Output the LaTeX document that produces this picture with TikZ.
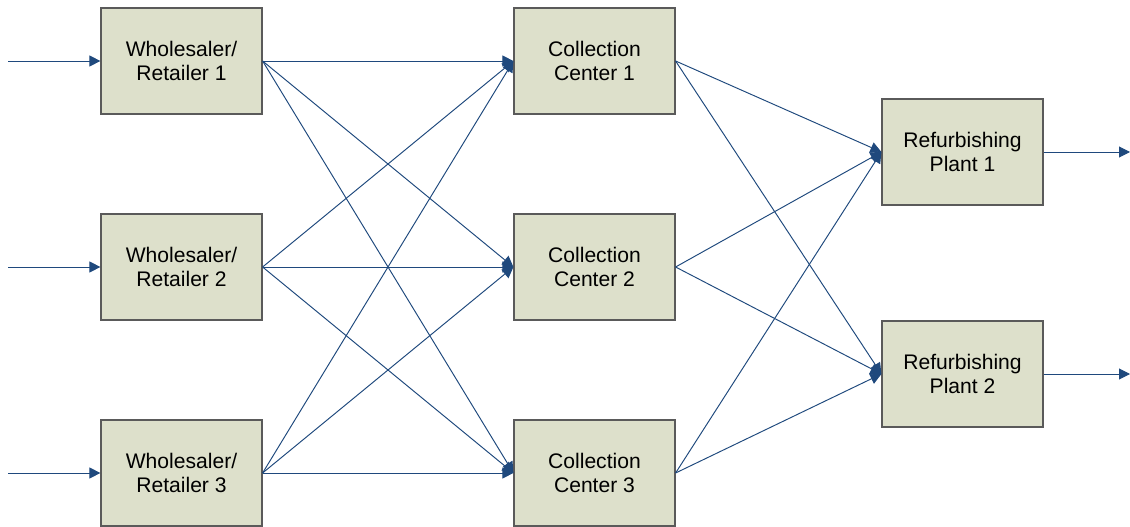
\documentclass[tikz,border=0pt]{standalone}
\usepackage{fontspec}
\setmainfont{Liberation Sans}
\usetikzlibrary{arrows.meta}
\definecolor{boxfill}{RGB}{221,224,203}
\definecolor{boxline}{RGB}{90,90,90}
\definecolor{linkblue}{RGB}{31,73,125}

\begin{document}
\begin{tikzpicture}[
  x=0.02cm, y=-0.02cm,
  >={Triangle[length=2.2mm, width=2.2mm]},
  stagebox/.style={draw=boxline, fill=boxfill, line width=0.7pt, minimum width=3.22cm, minimum height=2.12cm, align=center, font=\fontsize{12}{13.2}\selectfont, inner sep=0pt},
  link/.style={->, draw=linkblue, line width=0.55pt}
]
\useasboundingbox (0,0) rectangle (1130,527);

% Wholesalers / retailers and collection centers
\foreach \i/\y in {1/61, 2/267, 3/473} {
  \node[stagebox] (w\i) at (181.5, \y) {Wholesaler/\\Retailer \i};
  \node[stagebox] (c\i) at (594.5, \y) {Collection\\Center \i};
  \coordinate (in\i) at (8, \y);
}

% Refurbishing plants
\foreach \k/\y in {1/152, 2/374} {
  \node[stagebox] (r\k) at (962.5, \y) {Refurbishing\\Plant \k};
  \coordinate (out\k) at (1130, \y);
}

% Incoming returns
\foreach \i in {1,2,3} {
  \draw[link] (in\i) -- (w\i.west);
}

% Wholesaler to collection center
\foreach \i in {1,2,3} {
  \foreach \j in {1,2,3} {
    \draw[link] (w\i.east) -- (c\j.west);
  }
}

% Collection center to plant
\foreach \j in {1,2,3} {
  \foreach \k in {1,2} {
    \draw[link] (c\j.east) -- (r\k.west);
  }
}

% Outgoing refurbished products
\foreach \k in {1,2} {
  \draw[link] (r\k.east) -- (out\k);
}

\end{tikzpicture}
\end{document}
